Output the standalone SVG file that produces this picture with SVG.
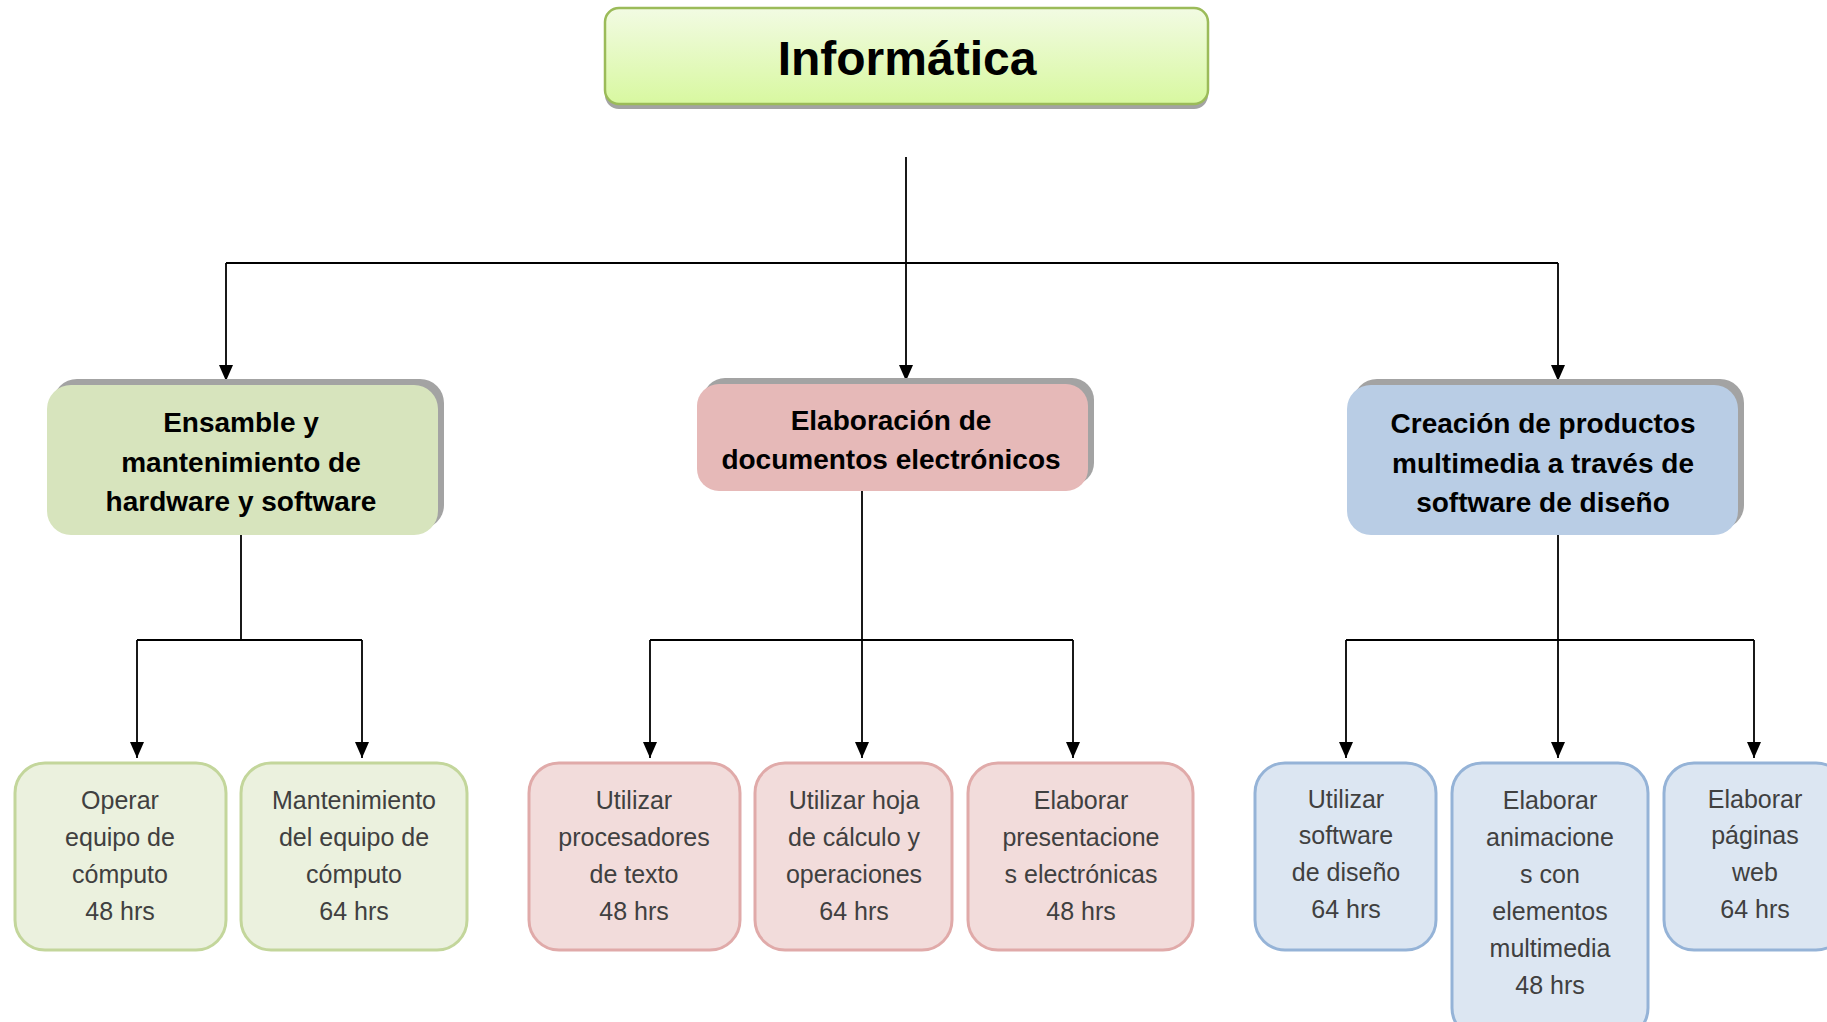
<svg xmlns="http://www.w3.org/2000/svg" width="1827" height="1022" viewBox="0 0 1827 1022">
<style>
.t0{font-family:"Liberation Sans",Arial,sans-serif;font-weight:bold;font-size:48px;fill:#000;text-anchor:middle}
.t1{font-family:"Liberation Sans",Arial,sans-serif;font-weight:bold;font-size:28px;fill:#000;text-anchor:middle}
.t2{font-family:"Liberation Sans",Arial,sans-serif;font-size:25px;fill:#404040;text-anchor:middle}
.sh{fill:#a3a3a3}
.g2{fill:#d7e4bd}
.r2{fill:#e6b9b8}
.b2{fill:#b9cde5}
.g3{fill:#ebf1de;stroke:#c3d69b;stroke-width:3}
.r3{fill:#f2dcdb;stroke:#e0aaa9;stroke-width:3}
.b3{fill:#dce6f2;stroke:#95b3d7;stroke-width:3}
.ln{fill:none;stroke:#000;stroke-width:1.8}
</style>
<defs>
<linearGradient id="gt" x1="0" y1="0" x2="0" y2="1">
<stop offset="0" stop-color="#f2fbe3"/>
<stop offset="1" stop-color="#d8f8a0"/>
</linearGradient>
<marker id="ah" viewBox="0 0 16 14" refX="16" refY="7" markerWidth="16" markerHeight="14" markerUnits="userSpaceOnUse" orient="auto">
<path d="M0,0 L16,7 L0,14 z" fill="#000"/>
</marker>
</defs>

<g id="connectors">
<path class="ln" d="M906,157 V381" marker-end="url(#ah)"/>
<path class="ln" d="M226,263 H1558"/>
<path class="ln" d="M226,263 V381" marker-end="url(#ah)"/>
<path class="ln" d="M1558,263 V381" marker-end="url(#ah)"/>
<path class="ln" d="M241,535 V640"/>
<path class="ln" d="M137,640 H362"/>
<path class="ln" d="M137,640 V758" marker-end="url(#ah)"/>
<path class="ln" d="M362,640 V758" marker-end="url(#ah)"/>
<path class="ln" d="M862,491 V758" marker-end="url(#ah)"/>
<path class="ln" d="M650,640 H1073"/>
<path class="ln" d="M650,640 V758" marker-end="url(#ah)"/>
<path class="ln" d="M1073,640 V758" marker-end="url(#ah)"/>
<path class="ln" d="M1558,535 V758" marker-end="url(#ah)"/>
<path class="ln" d="M1346,640 H1754"/>
<path class="ln" d="M1346,640 V758" marker-end="url(#ah)"/>
<path class="ln" d="M1754,640 V758" marker-end="url(#ah)"/>
</g>

<g id="informatica">
<rect class="sh" x="605" y="13" width="603" height="96" rx="14"/>
<rect x="605" y="8" width="603" height="96" rx="14" fill="url(#gt)" stroke="#9bbb59" stroke-width="2.5"/>
<text class="t0" x="907" y="75">Informática</text>
</g>

<g id="ensamble">
<rect class="sh" x="53" y="379" width="391" height="150" rx="24"/>
<rect class="g2" x="47" y="385" width="391" height="150" rx="24"/>
<text class="t1" x="241" y="432">Ensamble y</text>
<text class="t1" x="241" y="472">mantenimiento de</text>
<text class="t1" x="241" y="511">hardware y software</text>
</g>

<g id="elaboracion">
<rect class="sh" x="703" y="378" width="391" height="107" rx="22"/>
<rect class="r2" x="697" y="384" width="391" height="107" rx="22"/>
<text class="t1" x="891" y="430">Elaboración de</text>
<text class="t1" x="891" y="469">documentos electrónicos</text>
</g>

<g id="creacion">
<rect class="sh" x="1353" y="379" width="391" height="150" rx="24"/>
<rect class="b2" x="1347" y="385" width="391" height="150" rx="24"/>
<text class="t1" x="1543" y="433">Creación de productos</text>
<text class="t1" x="1543" y="473">multimedia a través de</text>
<text class="t1" x="1543" y="512">software de diseño</text>
</g>

<g id="operar">
<rect class="g3" x="15" y="763" width="211" height="187" rx="30"/>
<text class="t2" x="120" y="809">Operar</text>
<text class="t2" x="120" y="846">equipo de</text>
<text class="t2" x="120" y="883">cómputo</text>
<text class="t2" x="120" y="920">48 hrs</text>
</g>

<g id="mantenimiento">
<rect class="g3" x="241" y="763" width="226" height="187" rx="30"/>
<text class="t2" x="354" y="809">Mantenimiento</text>
<text class="t2" x="354" y="846">del equipo de</text>
<text class="t2" x="354" y="883">cómputo</text>
<text class="t2" x="354" y="920">64 hrs</text>
</g>

<g id="procesadores">
<rect class="r3" x="529" y="763" width="211" height="187" rx="30"/>
<text class="t2" x="634" y="809">Utilizar</text>
<text class="t2" x="634" y="846">procesadores</text>
<text class="t2" x="634" y="883">de texto</text>
<text class="t2" x="634" y="920">48 hrs</text>
</g>

<g id="hoja">
<rect class="r3" x="755" y="763" width="197" height="187" rx="30"/>
<text class="t2" x="854" y="809">Utilizar hoja</text>
<text class="t2" x="854" y="846">de cálculo y</text>
<text class="t2" x="854" y="883">operaciones</text>
<text class="t2" x="854" y="920">64 hrs</text>
</g>

<g id="presentaciones">
<rect class="r3" x="968" y="763" width="225" height="187" rx="30"/>
<text class="t2" x="1081" y="809">Elaborar</text>
<text class="t2" x="1081" y="846">presentacione</text>
<text class="t2" x="1081" y="883">s electrónicas</text>
<text class="t2" x="1081" y="920">48 hrs</text>
</g>

<g id="software">
<rect class="b3" x="1255" y="763" width="181" height="187" rx="30"/>
<text class="t2" x="1346" y="808">Utilizar</text>
<text class="t2" x="1346" y="844">software</text>
<text class="t2" x="1346" y="881">de diseño</text>
<text class="t2" x="1346" y="918">64 hrs</text>
</g>

<g id="animaciones">
<rect class="b3" x="1452" y="763" width="196" height="275" rx="30"/>
<text class="t2" x="1550" y="809">Elaborar</text>
<text class="t2" x="1550" y="846">animacione</text>
<text class="t2" x="1550" y="883">s con</text>
<text class="t2" x="1550" y="920">elementos</text>
<text class="t2" x="1550" y="957">multimedia</text>
<text class="t2" x="1550" y="994">48 hrs</text>
</g>

<g id="paginas">
<rect class="b3" x="1664" y="763" width="182" height="187" rx="30"/>
<text class="t2" x="1755" y="808">Elaborar</text>
<text class="t2" x="1755" y="844">páginas</text>
<text class="t2" x="1755" y="881">web</text>
<text class="t2" x="1755" y="918">64 hrs</text>
</g>
</svg>
